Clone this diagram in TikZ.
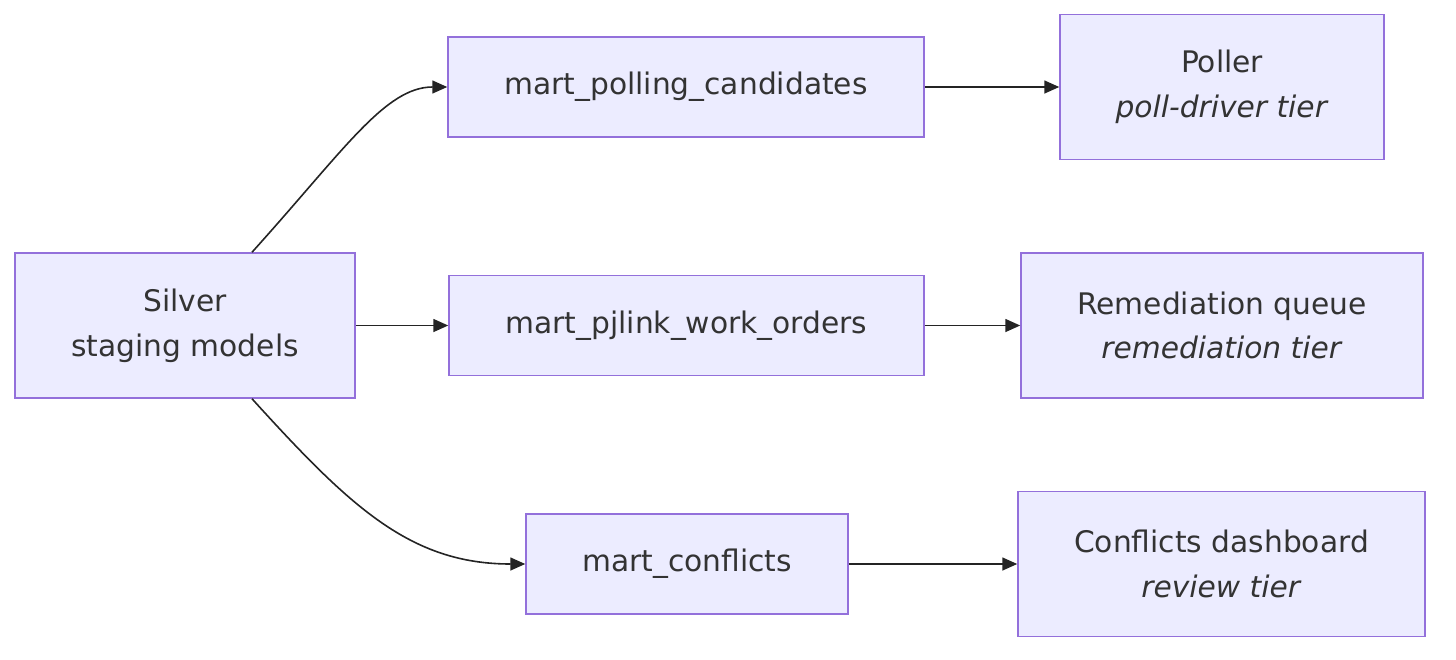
\documentclass[tikz,border=0pt]{standalone}
\usepackage{fontspec}
\setmainfont{DejaVu Sans}
\usetikzlibrary{arrows.meta}
\definecolor{nodefill}{HTML}{ECECFF}
\definecolor{nodeline}{HTML}{9370DB}
\definecolor{ink}{HTML}{333333}
\tikzset{
  box/.style={draw=nodeline, fill=nodefill, line width=1.5pt, inner sep=0pt,
    align=center, text=ink, font=\fontsize{29.7}{44.6}\selectfont},
  link/.style={draw=ink!70!black, line width=1.6pt,
    -{Triangle[length=15pt,width=13pt]}},
}
\begin{document}
\begin{tikzpicture}[x=1pt,y=-1pt]
\useasboundingbox (0,0) rectangle (1456,659);
\node[box, minimum width=340pt, minimum height=145pt] (silver) at (185,325.5) {Silver\\staging models};
\node[box, minimum width=476pt, minimum height=100pt] (polling) at (686,87) {mart\_polling\_candidates};
\node[box, minimum width=475pt, minimum height=100pt] (pjlink) at (686.5,325.5) {mart\_pjlink\_work\_orders};
\node[box, minimum width=322pt, minimum height=100pt] (conflicts) at (687,564) {mart\_conflicts};
\node[box, minimum width=324pt, minimum height=145pt] (poller) at (1222,87) {Poller\\\textit{poll-driver tier}};
\node[box, minimum width=402pt, minimum height=145pt] (remed) at (1222,325.5) {Remediation queue\\\textit{remediation tier}};
\node[box, minimum width=407pt, minimum height=145pt] (dash) at (1221.5,564) {Conflicts dashboard\\\textit{review tier}};
\coordinate (stop) at ([xshift=67pt]silver.north);
\coordinate (sbot) at ([xshift=67pt]silver.south);
\draw[link] (stop) .. controls +(92,-102) and +(-62,0) .. (polling.west);
\draw[link] (silver.east) -- (pjlink.west);
\draw[link] (sbot) .. controls +(98,108) and +(-115,0) .. (conflicts.west);
\draw[link] (polling.east) -- (poller.west);
\draw[link] (pjlink.east) -- (remed.west);
\draw[link] (conflicts.east) -- (dash.west);
\end{tikzpicture}
\end{document}
